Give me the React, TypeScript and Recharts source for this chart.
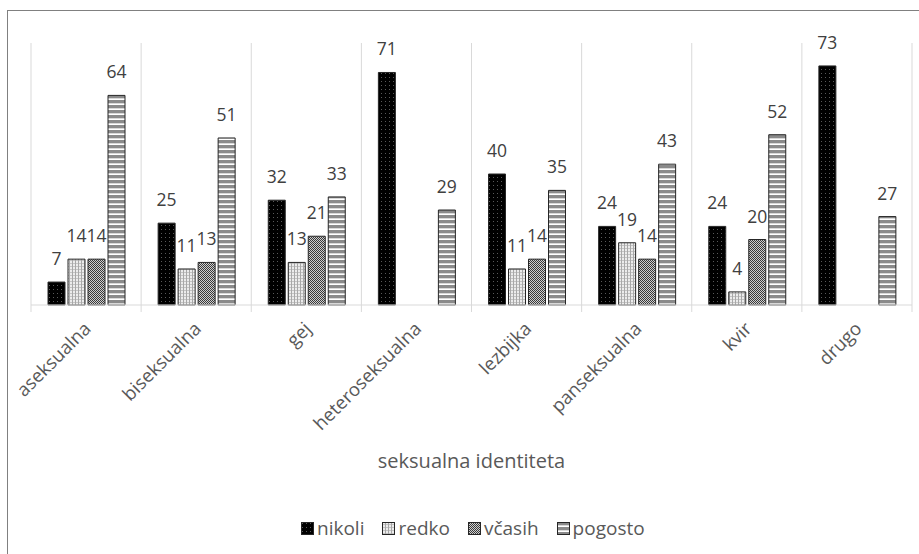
import React from 'react';
import { BarChart, Bar, XAxis, YAxis, CartesianGrid, LabelList } from 'recharts';

const categories = ['aseksualna', 'biseksualna', 'gej', 'heteroseksualna', 'lezbijka', 'panseksualna', 'kvir', 'drugo'];
const nikoli = [7, 25, 32, 71, 40, 24, 24, 73];
const redko = [14, 11, 13, null, 11, 19, 4, null];
const vcasih = [14, 13, 21, null, 14, 14, 20, null];
const pogosto = [64, 51, 33, 29, 35, 43, 52, 27];
const seriesKeys = ['nikoli', 'redko', 'vcasih', 'pogosto'];
const seriesNames = ['nikoli', 'redko', 'včasih', 'pogosto'];
const axisTitle = 'seksualna identiteta';

const data = categories.map((name, i) => ({
  name,
  nikoli: nikoli[i],
  redko: redko[i],
  vcasih: vcasih[i],
  pogosto: pogosto[i],
}));

const FONT = '"Open Sans", sans-serif';

function Patterns() {
  return (
    <svg width={0} height={0} style={{ position: 'absolute' }}>
      <defs>
        <pattern id="pat-nikoli" width={4} height={4} patternUnits="userSpaceOnUse">
          <rect width={4} height={4} fill="#000" />
          <rect x={1} y={1} width={1} height={1} fill="#5a5a5a" />
        </pattern>
        <pattern id="pat-redko" width={3} height={3} patternUnits="userSpaceOnUse">
          <rect width={3} height={3} fill="#ececec" />
          <rect x={0} y={0} width={1} height={3} fill="#a8a8a8" />
          <rect x={1} y={2} width={2} height={1} fill="#c4c4c4" />
        </pattern>
        <pattern id="pat-vcasih" width={2} height={2} patternUnits="userSpaceOnUse">
          <rect width={2} height={2} fill="#cfcfcf" />
          <rect x={0} y={0} width={1} height={1} fill="#3a3a3a" />
          <rect x={1} y={1} width={1} height={1} fill="#3a3a3a" />
        </pattern>
        <pattern id="pat-pogosto" width={5} height={5} patternUnits="userSpaceOnUse">
          <rect width={5} height={5} fill="#8a8a8a" />
          <rect x={0} y={3} width={5} height={1} fill="#d8d8d8" />
          <rect x={0} y={4} width={5} height={1} fill="#ffffff" />
        </pattern>
      </defs>
    </svg>
  );
}

// eslint-disable-next-line @typescript-eslint/no-explicit-any
function CategoryTick(props: any) {
  const { x, y, payload } = props;
  const half = payload?.offset ?? 55;
  return (
    <g>
      <line x1={x - half} x2={x - half} y1={y} y2={y + 7} stroke="#d9d9d9" />
      {payload.index === categories.length - 1 && (
        <line x1={x + half} x2={x + half} y1={y} y2={y + 7} stroke="#d9d9d9" />
      )}
      <text
        x={x + 6}
        y={y + 25}
        textAnchor="end"
        fontSize={18.5}
        fill="#595959"
        transform={`rotate(-45, ${x + 6}, ${y + 25})`}
      >
        {payload.value}
      </text>
    </g>
  );
}

export default function App() {
  return (
    <div
      style={{
        position: 'absolute', left: 0, top: 0, width: 919, height: 554,
        overflow: 'hidden', background: '#fff', fontFamily: FONT,
      }}
    >
      <Patterns />
      <div
        style={{
          position: 'absolute', left: 7, top: 10, width: 930, height: 560,
          border: '1px solid #808080', boxSizing: 'border-box',
        }}
      />
      <div style={{ position: 'absolute', left: 0, top: 0 }}>
        <BarChart
          width={919}
          height={554}
          data={data}
          margin={{ top: 43, right: 7, bottom: 149, left: 31 }}
          barSize={17}
          barGap={3}
        >
          <CartesianGrid
            horizontal={false}
            stroke="#d9d9d9"
            // eslint-disable-next-line @typescript-eslint/no-explicit-any
            verticalCoordinatesGenerator={({ offset }: any) =>
              Array.from({ length: categories.length + 1 }, (_, i) =>
                offset.left + (i * offset.width) / categories.length)
            }
          />
          <XAxis
            dataKey="name"
            height={100}
            interval={0}
            tickLine={false}
            tickSize={0}
            tickMargin={0}
            axisLine={{ stroke: '#d9d9d9' }}
            tick={<CategoryTick />}
          />
          <YAxis hide domain={[0, 80]} />
          {seriesKeys.map(k => (
            <Bar
              key={k}
              dataKey={k}
              fill={`url(#pat-${k})`}
              stroke="#262626"
              strokeWidth={1}
              isAnimationActive={false}
            >
              <LabelList dataKey={k} position="top" offset={17} fill="#404040" fontSize={17.5} />
            </Bar>
          ))}
        </BarChart>
      </div>
      <div
        style={{
          position: 'absolute', left: 0, top: 447, width: 943, textAlign: 'center',
          fontSize: 20, color: '#595959',
        }}
      >
        {axisTitle}
      </div>
      <div
        style={{
          position: 'absolute', left: 301, top: 515, display: 'flex', alignItems: 'center',
          fontSize: 19, color: '#595959',
        }}
      >
        {seriesKeys.map((k, i) => (
          <span key={k} style={{ display: 'flex', alignItems: 'center', marginRight: 18 }}>
            <svg width={13} height={13} style={{ marginRight: 3 }}>
              <rect x={0.5} y={0.5} width={12} height={12} fill={`url(#pat-${k})`} stroke="#262626" />
            </svg>
            {seriesNames[i]}
          </span>
        ))}
      </div>
    </div>
  );
}
